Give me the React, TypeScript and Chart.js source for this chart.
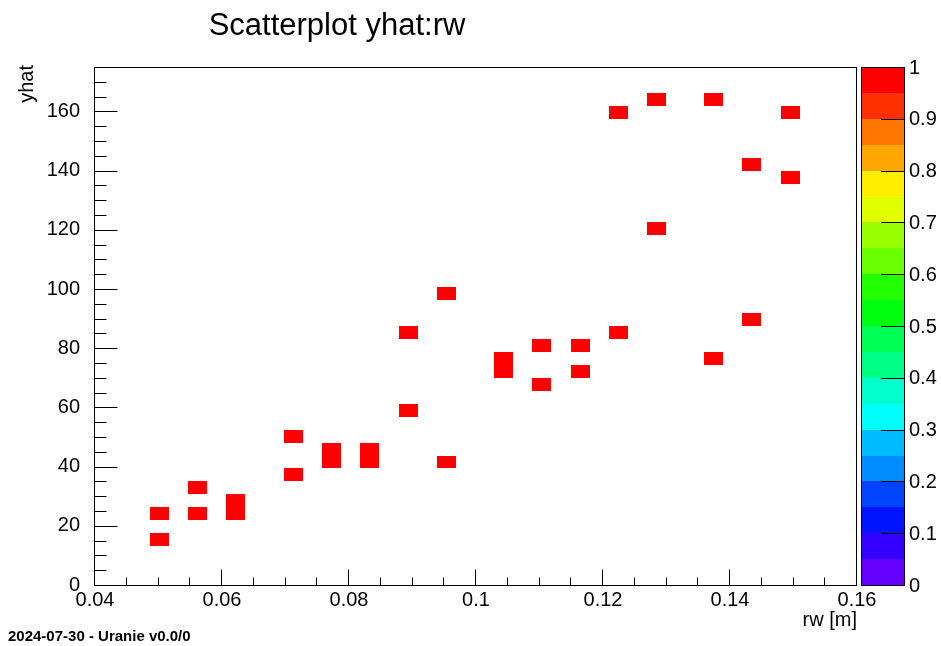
import React, { useEffect, useRef } from 'react';
import { Chart, registerables } from 'chart.js';

Chart.register(...registerables);

// Histogram cell centres (each filled bin has content 1)
const rw = [
  0.0502, 0.0502, 0.0562, 0.0562, 0.0622, 0.0622, 0.0712, 0.0712,
  0.0772, 0.0772, 0.0833, 0.0833, 0.0893, 0.0893, 0.0953, 0.0953,
  0.1043, 0.1043, 0.1103, 0.1103, 0.1164, 0.1164, 0.1224, 0.1224,
  0.1284, 0.1284, 0.1374, 0.1374, 0.1434, 0.1434, 0.1495, 0.1495,
];
const yhat = [
  24.06, 15.31, 32.81, 24.06, 24.06, 28.44, 50.31, 37.19,
  41.56, 45.94, 41.56, 45.94, 85.31, 59.06, 98.44, 41.56,
  72.19, 76.56, 80.94, 67.81, 80.94, 72.19, 85.31, 159.69,
  164.06, 120.31, 164.06, 76.56, 142.19, 89.69, 159.69, 137.81,
];
const counts = rw.map(() => 1);

const BIN_RW = 0.003;
const BIN_YHAT = 4.375;

const X_MIN = 0.04;
const X_MAX = 0.16;
const Y_MIN = 0;
const Y_MAX = 175;

const xTickValues = [0.04, 0.06, 0.08, 0.1, 0.12, 0.14, 0.16];
const xTickLabels = ['0.04', '0.06', '0.08', '0.1', '0.12', '0.14', '0.16'];
const xMinorStep = 0.005;
const yTickValues = [0, 20, 40, 60, 80, 100, 120, 140, 160];
const yTickLabels = ['0', '20', '40', '60', '80', '100', '120', '140', '160'];
const yMinorStep = 5;

const zTickValues = [0, 0.1, 0.2, 0.3, 0.4, 0.5, 0.6, 0.7, 0.8, 0.9, 1];
const zTickLabels = ['0', '0.1', '0.2', '0.3', '0.4', '0.5', '0.6', '0.7', '0.8', '0.9', '1'];
// 20 contour bands, from 0 (bottom) to 1 (top)
const paletteColors = [
  '#6300ff', '#3300ff', '#0014ff', '#0044ff', '#008bff',
  '#00bbff', '#00fffc', '#00ffcc', '#00ff85', '#00ff55',
  '#00ff0e', '#22ff00', '#69ff00', '#99ff00', '#e0ff00',
  '#ffee00', '#ffa700', '#ff7700', '#ff3000', '#ff0000',
];

const TITLE = 'Scatterplot yhat:rw';
const X_TITLE = 'rw [m]';
const Y_TITLE = 'yhat';
const FOOTER = '2024-07-30 - Uranie v0.0/0';

const FONT = "'Liberation Sans', Arial, Helvetica, sans-serif";

function colorFor(v: number, zmax: number) {
  const n = paletteColors.length;
  let idx = Math.floor((v / zmax) * n);
  if (idx >= n) idx = n - 1;
  if (idx < 0) idx = 0;
  return paletteColors[idx];
}

const rootPlugin = {
  id: 'rootDecor',
  beforeDatasetsDraw(chart: any) {
    const { ctx, scales } = chart;
    const xs = scales.x;
    const ys = scales.y;
    const data = chart.data.datasets[0].data as any[];
    const zmax = Math.max(...counts);
    ctx.save();
    const ca = chart.chartArea;
    ctx.beginPath();
    ctx.rect(ca.left, ca.top, ca.right - ca.left, ca.bottom - ca.top);
    ctx.clip();
    data.forEach((p, i) => {
      const row = Math.floor((p.y - Y_MIN) / BIN_YHAT);
      const yLo = Y_MIN + row * BIN_YHAT;
      const yHi = yLo + BIN_YHAT;
      const x0 = Math.round(xs.getPixelForValue(p.x - BIN_RW / 2));
      const x1 = Math.round(xs.getPixelForValue(p.x + BIN_RW / 2));
      const y0 = Math.round(ys.getPixelForValue(yHi));
      const y1 = Math.round(ys.getPixelForValue(yLo));
      ctx.fillStyle = colorFor(counts[i], zmax);
      ctx.fillRect(x0, y0, x1 - x0, y1 - y0);
    });
    ctx.restore();
  },
  afterDraw(chart: any) {
    const { ctx, scales, chartArea: ca } = chart;
    const xs = scales.x;
    const ys = scales.y;
    ctx.save();
    ctx.strokeStyle = '#000';
    ctx.lineWidth = 1;

    const L = Math.round(ca.left) - 0.5;
    const R = Math.round(ca.right) - 0.5;
    const T = Math.round(ca.top) + 0.5;
    const B = Math.round(ca.bottom) + 0.5;
    ctx.strokeRect(L, T, R - L, B - T);

    // y ticks (inward)
    ctx.beginPath();
    for (let v = Y_MIN; v <= Y_MAX + 1e-9; v += yMinorStep) {
      const py = Math.round(ys.getPixelForValue(v)) + 0.5;
      const major = yTickValues.some((t) => Math.abs(t - v) < 1e-6);
      const len = major ? 23 : 12;
      ctx.moveTo(L, py);
      ctx.lineTo(L + len, py);
    }
    // x ticks (inward)
    for (let k = 0; X_MIN + k * xMinorStep <= X_MAX + 1e-9; k++) {
      const v = X_MIN + k * xMinorStep;
      const px = Math.round(xs.getPixelForValue(v)) - 0.5;
      const major = xTickValues.some((t) => Math.abs(t - v) < 1e-6);
      const len = major ? 16 : 8;
      ctx.moveTo(px, B);
      ctx.lineTo(px, B - len);
    }
    ctx.stroke();

    // colour bar
    const cbL = 862;
    const cbR = 904;
    const cbT = ca.top;
    const cbB = ca.bottom;
    const zPix = (v: number) => cbB - v * (cbB - cbT);
    const n = paletteColors.length;
    for (let j = 0; j < n; j++) {
      const yTop = Math.round(zPix((j + 1) / n));
      const yBot = Math.round(zPix(j / n));
      ctx.fillStyle = paletteColors[j];
      ctx.fillRect(cbL, yTop, cbR - cbL, yBot - yTop);
    }
    ctx.strokeRect(cbL - 0.5, T, cbR - cbL + 1, B - T);
    ctx.beginPath();
    zTickValues.forEach((v) => {
      const py = Math.round(zPix(v)) + 0.5;
      ctx.moveTo(cbR, py);
      ctx.lineTo(cbR - 23, py);
    });
    ctx.stroke();

    ctx.fillStyle = '#000';
    ctx.font = `20px ${FONT}`;
    ctx.textAlign = 'left';
    ctx.textBaseline = 'middle';
    zTickValues.forEach((v, i) => {
      ctx.fillText(zTickLabels[i], 909, zPix(v) + 1);
    });

    // title
    ctx.font = `31px ${FONT}`;
    ctx.textAlign = 'center';
    ctx.textBaseline = 'alphabetic';
    ctx.fillText(TITLE, 337, 35);

    // axis titles
    ctx.font = `20px ${FONT}`;
    ctx.textAlign = 'right';
    ctx.fillText(X_TITLE, ca.right, 626);

    ctx.save();
    ctx.translate(33, 65);
    ctx.rotate(-Math.PI / 2);
    ctx.textAlign = 'right';
    ctx.fillText(Y_TITLE, 0, 0);
    ctx.restore();

    // footer
    ctx.font = `bold 15px ${FONT}`;
    ctx.textAlign = 'left';
    ctx.fillText(FOOTER, 8, 641);

    ctx.restore();
  },
};

export default function App() {
  const canvasRef = useRef<HTMLCanvasElement | null>(null);

  useEffect(() => {
    const canvas = canvasRef.current;
    if (!canvas) return;
    const chart = new Chart(canvas, {
      type: 'scatter',
      data: {
        datasets: [
          {
            label: 'yhat:rw',
            data: rw.map((x, i) => ({ x, y: yhat[i] })),
            pointRadius: 0,
            pointHoverRadius: 0,
            showLine: false,
          },
        ],
      },
      options: {
        animation: false,
        responsive: false,
        devicePixelRatio: 1,
        events: [],
        layout: { padding: { left: 0, top: 67, right: 84, bottom: 0 } },
        plugins: {
          legend: { display: false },
          tooltip: { enabled: false },
          title: { display: false },
        },
        scales: {
          x: {
            type: 'linear',
            min: X_MIN,
            max: X_MAX,
            afterBuildTicks: (s: any) => {
              s.ticks = xTickValues.map((v) => ({ value: v }));
            },
            afterFit: (s: any) => {
              s.height = 61;
            },
            grid: { display: false },
            border: { display: false },
            ticks: {
              autoSkip: false,
              maxRotation: 0,
              minRotation: 0,
              padding: -5,
              color: '#000',
              font: { family: FONT, size: 20 },
              callback: (_v: any, i: number) => xTickLabels[i],
            },
          },
          y: {
            type: 'linear',
            min: Y_MIN,
            max: Y_MAX,
            afterBuildTicks: (s: any) => {
              s.ticks = yTickValues.map((v) => ({ value: v }));
            },
            afterFit: (s: any) => {
              s.width = 95;
            },
            grid: { display: false },
            border: { display: false },
            ticks: {
              autoSkip: false,
              padding: 7,
              color: '#000',
              font: { family: FONT, size: 20 },
              callback: (_v: any, i: number) => yTickLabels[i],
            },
          },
        },
      },
      plugins: [rootPlugin],
    } as any);
    return () => chart.destroy();
  }, []);

  return (
    <div style={{ position: 'absolute', left: 0, top: 0, width: 941, height: 646, background: '#fff' }}>
      <canvas ref={canvasRef} width={941} height={646} style={{ display: 'block' }} />
    </div>
  );
}
